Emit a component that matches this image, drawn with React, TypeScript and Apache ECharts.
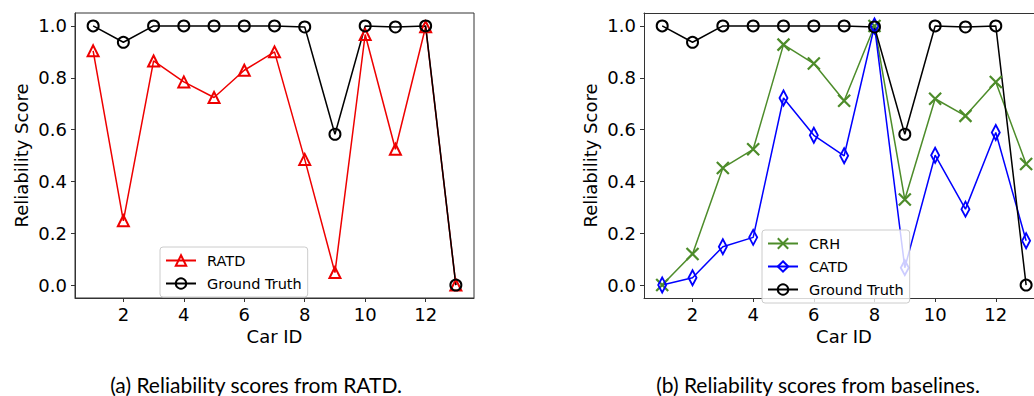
import React, { useEffect, useRef } from "react";
import * as echarts from "echarts";

// ---- data ----
const carIds = [1, 2, 3, 4, 5, 6, 7, 8, 9, 10, 11, 12, 13];
const ratd = [0.904, 0.248, 0.865, 0.784, 0.724, 0.829, 0.9, 0.485, 0.048, 0.967, 0.524, 0.997, 0.0];
const groundTruth = [1.0, 0.937, 1.0, 1.0, 1.0, 1.0, 1.0, 0.996, 0.582, 1.0, 0.996, 1.0, 0.0];
const crh = [0.0, 0.12, 0.452, 0.524, 0.928, 0.855, 0.711, 1.0, 0.33, 0.719, 0.653, 0.784, 0.467];
const catd = [0.0, 0.028, 0.148, 0.184, 0.722, 0.578, 0.499, 1.0, 0.067, 0.501, 0.293, 0.589, 0.171];

const xTicks = [2, 4, 6, 8, 10, 12];
const yTicks = [0, 0.2, 0.4, 0.6, 0.8, 1.0];

const captionA = "(a) Reliability scores from RATD.";
const captionB = "(b) Reliability scores from baselines.";

const RED = "#ee0000";
const GREEN = "#4d8c2a";
const BLUE = "#0000ff";
const BLACK = "#000000";
const SPINE = "#333333";

const pairs = (vals: number[]) => carIds.map((id, i) => [id, vals[i]]);

export default function App() {
  const ref = useRef<HTMLDivElement>(null);

  useEffect(() => {
    const chart = echarts.init(ref.current!, null, { renderer: "svg" });
    const axisFont = { fontFamily: "DejaVu Sans", fontSize: 18, color: "#000" };
    const spine = { show: true, onZero: false, lineStyle: { color: SPINE, width: 1 } };

    const makeX = (gridIndex: number, max: number, namePad: number[]) => ({
      type: "value",
      gridIndex,
      min: 0.4,
      max,
      name: "Car ID",
      nameLocation: "middle",
      nameGap: 29,
      nameTextStyle: { ...axisFont, padding: namePad },
      axisLine: spine,
      axisTick: { show: true, inside: false, length: 4, lineStyle: { color: SPINE }, customValues: xTicks },
      axisLabel: { ...axisFont, margin: 7, customValues: xTicks, formatter: (v: number) => String(v) },
      splitLine: { show: false },
    });

    const makeY = (gridIndex: number) => ({
      type: "value",
      gridIndex,
      min: -0.05,
      max: 1.05,
      name: "Reliability Score",
      nameLocation: "middle",
      nameRotate: 90,
      nameGap: 45,
      nameTextStyle: axisFont,
      axisLine: spine,
      axisTick: { show: true, inside: false, length: 4, lineStyle: { color: SPINE }, customValues: yTicks },
      axisLabel: { ...axisFont, margin: 8, customValues: yTicks, formatter: (v: number) => v.toFixed(1) },
      splitLine: { show: false },
    });

    const line = (
      name: string,
      vals: number[],
      color: string,
      symbol: string,
      size: number | number[],
      axisIndex: number,
      bw = 2
    ) => ({
      type: "line",
      name,
      data: pairs(vals),
      xAxisIndex: axisIndex,
      yAxisIndex: axisIndex,
      symbol,
      symbolSize: size,
      showSymbol: true,
      showAllSymbol: true,
      clip: false,
      lineStyle: { color, width: 1.5 },
      itemStyle: { color: "rgba(255,255,255,0)", borderColor: color, borderWidth: bw },
      emphasis: { disabled: true },
    });

    const legendBase = {
      orient: "vertical",
      padding: [6, 6, 6, 5],
      itemGap: 8,
      itemWidth: 30,
      itemHeight: 13,
      backgroundColor: "rgba(255,255,255,0.8)",
      borderColor: "#cccccc",
      borderWidth: 1,
      borderRadius: 3,
      selectedMode: false,
      textStyle: { fontFamily: "DejaVu Sans", fontSize: 14.5, color: "#000", padding: [0, 0, 0, 6], lineHeight: 13 },
    };

    chart.setOption({
      animation: false,
      grid: [
        { left: 75, top: 13, width: 399, height: 285, show: true, borderColor: SPINE, borderWidth: 1, backgroundColor: "transparent" },
        { left: 644, top: 13, width: 390, height: 285 },
      ],
      xAxis: [
        makeX(0, 13.6, [0, 0, 0, 0]),
        makeX(1, 13.26, [0, 0, 0, 10]),
        {
          type: "value",
          gridIndex: 1,
          position: "top",
          min: 0.4,
          max: 13.26,
          axisLine: spine,
          axisTick: { show: false },
          axisLabel: { show: false },
          splitLine: { show: false },
        },
      ],
      yAxis: [makeY(0), makeY(1)],
      legend: [
        { ...legendBase, left: 160, top: 247, data: ["RATD", "Ground Truth"] },
        { ...legendBase, left: 762, top: 230, data: ["CRH", "CATD", "Ground Truth"] },
      ],
      series: [
        line("RATD", ratd, RED, "triangle", 11, 0),
        line("Ground Truth", groundTruth, BLACK, "circle", 11, 0),
        line("CRH", crh, GREEN, "path://M0,0L12,12M12,0L0,12", 12, 1, 2.2),
        line("CATD", catd, BLUE, "diamond", [8, 15], 1),
        line("Ground Truth", groundTruth, BLACK, "circle", 11, 1),
      ],
      graphic: [
        {
          type: "text",
          x: 256,
          y: 384,
          style: { text: captionA, font: "21px Lato", fill: "#000", textAlign: "center", textVerticalAlign: "middle" },
        },
        {
          type: "text",
          x: 818,
          y: 384,
          style: { text: captionB, font: "21px Lato", fill: "#000", textAlign: "center", textVerticalAlign: "middle" },
        },
      ],
    });

    return () => chart.dispose();
  }, []);

  return (
    <div
      ref={ref}
      style={{ position: "absolute", left: 0, top: 0, width: 1034, height: 396, background: "#fff" }}
    />
  );
}
